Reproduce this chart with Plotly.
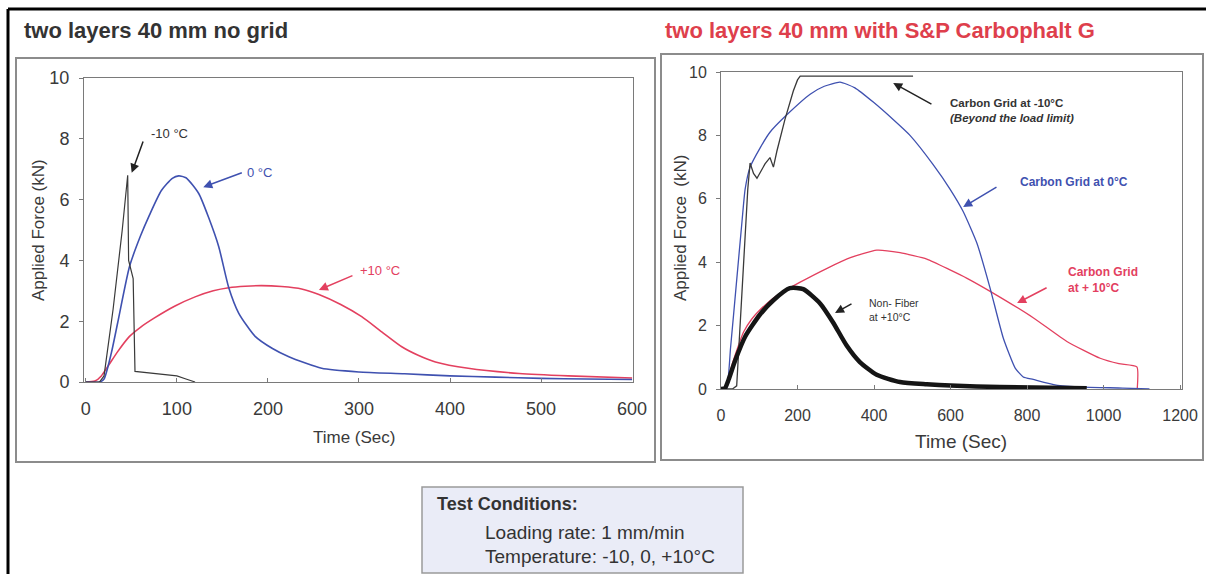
import plotly.graph_objects as go

W, H = 1206, 574

# ---------------- data: left panel (no grid) ----------------
left_m10_t = [0, 15, 20, 30, 40, 46, 47, 49, 52, 54, 60, 80, 100, 110, 120]
left_m10_f = [0, 0, 0.2, 2.4, 5.0, 6.8, 4.0, 3.75, 3.4, 0.35, 0.33, 0.27, 0.2, 0.1, 0.0]

left_0_t = [0, 15, 20, 28, 35, 48, 60, 70, 83, 95, 102, 110, 124, 135, 146, 157, 168, 186, 205, 223, 259, 300, 350, 400, 450, 500, 550, 600]
left_0_f = [0, 0, 0.1, 0.95, 1.95, 3.8, 4.8, 5.5, 6.3, 6.7, 6.78, 6.72, 6.2, 5.4, 4.45, 3.1, 2.26, 1.5, 1.1, 0.83, 0.45, 0.33, 0.27, 0.2, 0.16, 0.12, 0.1, 0.08]

left_p10_t = [0, 10, 17, 25, 35, 48, 60, 75, 98, 120, 140, 157, 175, 193, 215, 237, 256, 280, 303, 325, 347, 365, 384, 420, 476, 530, 600]
left_p10_f = [0, 0.03, 0.2, 0.55, 1.0, 1.5, 1.8, 2.1, 2.5, 2.8, 3.0, 3.1, 3.15, 3.17, 3.14, 3.06, 2.88, 2.55, 2.15, 1.65, 1.16, 0.88, 0.66, 0.45, 0.28, 0.2, 0.13]

# ---------------- data: right panel (with Carbophalt G) ----------------
right_m10_t = [0, 30, 41, 50, 60, 70, 76, 85, 94, 105, 115, 128, 137, 146, 167, 189, 200, 207, 220, 300, 400, 502]
right_m10_f = [0, 0, 0.1, 2.0, 4.2, 6.3, 7.13, 6.8, 6.65, 6.9, 7.1, 7.3, 7.0, 7.5, 8.5, 9.4, 9.75, 9.87, 9.87, 9.87, 9.87, 9.87]

right_0_t = [0, 14, 25, 40, 55, 63, 76, 102, 128, 172, 233, 270, 311, 350, 398, 450, 494, 555, 599, 633, 669, 703, 738, 769, 790, 816, 876, 950, 1050, 1120]
right_0_f = [0, 0, 1.3, 3.3, 5.3, 6.3, 7.0, 7.6, 8.1, 8.65, 9.3, 9.55, 9.68, 9.5, 9.05, 8.5, 8.0, 7.07, 6.3, 5.6, 4.6, 3.2, 1.6, 0.66, 0.38, 0.3, 0.12, 0.06, 0.03, 0.0]

right_p10_t = [0, 14, 25, 37, 59, 80, 102, 146, 207, 276, 340, 407, 468, 538, 600, 642, 708, 816, 904, 991, 1040, 1087, 1088]
right_p10_f = [0, 0.05, 0.6, 1.07, 1.8, 2.2, 2.5, 2.95, 3.37, 3.8, 4.15, 4.38, 4.3, 4.1, 3.75, 3.5, 3.05, 2.25, 1.5, 0.97, 0.8, 0.7, 0.0]

right_nf_t = [0, 10, 20, 37, 63, 102, 137, 180, 215, 259, 293, 328, 363, 407, 468, 538, 600, 729, 956]
right_nf_f = [0, 0.02, 0.3, 0.9, 1.65, 2.35, 2.8, 3.18, 3.15, 2.7, 2.1, 1.38, 0.85, 0.45, 0.22, 0.15, 0.11, 0.06, 0.02]

x_ticks_left = [0, 100, 200, 300, 400, 500, 600]
x_ticks_right = [0, 200, 400, 600, 800, 1000, 1200]
y_ticks = [0, 2, 4, 6, 8, 10]

BLUE = "#3f51b0"
RED = "#e3405f"
BLACK = "#3a3a3a"
TXT = "#3a3a3a"
FONT = "Liberation Sans, Arial, sans-serif"


def px(x):
    return x / W


def py(y):
    return 1 - y / H


fig = go.Figure()

# left traces
fig.add_trace(go.Scatter(x=left_p10_t, y=left_p10_f, mode="lines", line=dict(color=RED, width=1.6, shape="spline", smoothing=0.6), xaxis="x", yaxis="y"))
fig.add_trace(go.Scatter(x=left_0_t, y=left_0_f, mode="lines", line=dict(color=BLUE, width=1.6, shape="spline", smoothing=0.6), xaxis="x", yaxis="y"))
fig.add_trace(go.Scatter(x=left_m10_t, y=left_m10_f, mode="lines", line=dict(color=BLACK, width=1.2), xaxis="x", yaxis="y"))

# right traces
fig.add_trace(go.Scatter(x=right_p10_t, y=right_p10_f, mode="lines", line=dict(color=RED, width=1.3, shape="spline", smoothing=0.5), xaxis="x2", yaxis="y2"))
fig.add_trace(go.Scatter(x=right_0_t, y=right_0_f, mode="lines", line=dict(color=BLUE, width=1.3, shape="spline", smoothing=0.5), xaxis="x2", yaxis="y2"))
fig.add_trace(go.Scatter(x=right_m10_t, y=right_m10_f, mode="lines", line=dict(color=BLACK, width=1.3), xaxis="x2", yaxis="y2"))
fig.add_trace(go.Scatter(x=right_nf_t, y=right_nf_f, mode="lines", line=dict(color="#151515", width=4.5, shape="spline", smoothing=0.6), xaxis="x2", yaxis="y2"))

axis_common = dict(showgrid=False, zeroline=False, showline=True, linecolor="#7a7a7a", linewidth=1, mirror=True,
                   tickcolor="#7a7a7a", automargin=False)

fig.update_layout(
    width=W, height=H, margin=dict(l=0, r=0, t=0, b=0, pad=0), autosize=False,
    paper_bgcolor="white", plot_bgcolor="white", showlegend=False,
    font=dict(family=FONT, color=TXT),
    xaxis=dict(domain=[px(84), px(633)], range=[-2, 601], tickvals=x_ticks_left, ticks="inside", ticklen=4,
               ticklabelstandoff=10, anchor="y", tickfont=dict(family=FONT, color=TXT, size=18), **axis_common),
    yaxis=dict(domain=[py(382), py(78)], range=[0, 10], tickvals=y_ticks, ticks="outside", ticklen=4,
               ticklabelstandoff=6, anchor="x", tickfont=dict(family=FONT, color=TXT, size=18), **axis_common),
    xaxis2=dict(domain=[px(721), px(1182)], range=[0, 1205], tickvals=x_ticks_right, ticks="inside", ticklen=4,
                ticklabelstandoff=12, anchor="y2", tickfont=dict(family=FONT, color=TXT, size=16), **axis_common),
    yaxis2=dict(domain=[py(389), py(72)], range=[0, 10], tickvals=y_ticks, ticks="outside", ticklen=4,
                ticklabelstandoff=6, anchor="x2", tickfont=dict(family=FONT, color=TXT, size=16), **axis_common),
)

shapes = []
# outer black frame
shapes.append(dict(type="line", xref="paper", yref="paper", x0=px(8), x1=px(1206), y0=py(9), y1=py(9), line=dict(color="black", width=3)))
shapes.append(dict(type="line", xref="paper", yref="paper", x0=px(8), x1=px(8), y0=py(9), y1=py(574), line=dict(color="black", width=3)))
# panel boxes
shapes.append(dict(type="rect", xref="paper", yref="paper", x0=px(16), x1=px(655), y0=py(462), y1=py(58), line=dict(color="#8c8c8c", width=2), layer="below"))
shapes.append(dict(type="rect", xref="paper", yref="paper", x0=px(661), x1=px(1203), y0=py(460), y1=py(54), line=dict(color="#8c8c8c", width=2), layer="below"))
# test conditions box
shapes.append(dict(type="rect", xref="paper", yref="paper", x0=px(422), x1=px(743), y0=py(573), y1=py(487), line=dict(color="#9a9a9a", width=1.5), fillcolor="#eaecf7", layer="below"))
fig.update_layout(shapes=shapes)

ann = []
# titles
ann.append(dict(xref="paper", yref="paper", x=px(22), y=py(30), xanchor="left", yanchor="middle", showarrow=False,
                text="<b>two layers 40 mm no grid</b>", font=dict(size=22, color="#333333", family=FONT)))
ann.append(dict(xref="paper", yref="paper", x=px(663), y=py(30), xanchor="left", yanchor="middle", showarrow=False,
                text="<b>two layers 40 mm with S&P Carbophalt G</b>", font=dict(size=22, color="#de3f4c", family=FONT)))
# axis titles
ann.append(dict(xref="paper", yref="paper", x=px(38), y=py(230), xanchor="center", yanchor="middle", textangle=-90, showarrow=False,
                text="Applied Force (kN)", font=dict(size=17, color=TXT, family=FONT)))
ann.append(dict(xref="paper", yref="paper", x=px(354), y=py(438), xanchor="center", yanchor="middle", showarrow=False,
                text="Time (Sec)", font=dict(size=17, color=TXT, family=FONT)))
ann.append(dict(xref="paper", yref="paper", x=px(680), y=py(228), xanchor="center", yanchor="middle", textangle=-90, showarrow=False,
                text="Applied Force  (kN)", font=dict(size=17, color=TXT, family=FONT)))
ann.append(dict(xref="paper", yref="paper", x=px(961), y=py(441), xanchor="center", yanchor="middle", showarrow=False,
                text="Time (Sec)", font=dict(size=19, color=TXT, family=FONT)))


def arrow(xr, yr, tail, head, color, width=1.5):
    return dict(xref=xr, yref=yr, axref=xr, ayref=yr, x=head[0], y=head[1], ax=tail[0], ay=tail[1],
                text="", showarrow=True, arrowhead=2, arrowsize=1.2, arrowwidth=width, arrowcolor=color,
                standoff=0, startstandoff=0)


def label(xr, yr, x, y, text, color, size, align="left"):
    return dict(xref=xr, yref=yr, x=x, y=y, xanchor="left", yanchor="middle", text=text, showarrow=False,
                align=align, font=dict(size=size, color=color, family=FONT))


# left annotations
ann.append(arrow("x", "y", (63.5, 7.96), (50.4, 6.88), "#222222"))
ann.append(label("x", "y", 69, 8.19, "-10 °C", "#333333", 13))
ann.append(arrow("x", "y", (173, 6.9), (129, 6.41), BLUE))
ann.append(label("x", "y", 175, 6.9, "0 °C", BLUE, 13))
ann.append(arrow("x", "y", (294.5, 3.52), (256, 3.03), RED))
ann.append(label("x", "y", 299, 3.68, "+10 °C", RED, 13))

# right annotations
ann.append(arrow("x2", "y2", (554, 8.96), (450, 9.65), "#222222"))
ann.append(label("x2", "y2", 593, 8.8, "<b>Carbon Grid at -10°C</b><br><b><i>(Beyond the load limit)</i></b>", "#333333", 11.5))
ann.append(arrow("x2", "y2", (724, 6.4), (633, 5.74), BLUE))
ann.append(label("x2", "y2", 776, 6.53, "<b>Carbon Grid at 0°C</b>", BLUE, 12))
ann.append(arrow("x2", "y2", (855, 3.22), (774, 2.71), RED))
ann.append(label("x2", "y2", 902, 3.44, "<b>Carbon Grid</b><br><b>at + 10°C</b>", RED, 12))
ann.append(arrow("x2", "y2", (345, 2.71), (298, 2.4), "#222222"))
ann.append(label("x2", "y2", 382, 2.49, "Non- Fiber<br>at +10°C", "#333333", 10.5))

# test conditions
ann.append(dict(xref="paper", yref="paper", x=px(435), y=py(504), xanchor="left", yanchor="middle", showarrow=False,
                text="<b>Test Conditions:</b>", font=dict(size=18, color="#333333", family=FONT)))
ann.append(dict(xref="paper", yref="paper", x=px(483), y=py(532), xanchor="left", yanchor="middle", showarrow=False,
                text="Loading rate: 1 mm/min", font=dict(size=19, color="#333333", family=FONT)))
ann.append(dict(xref="paper", yref="paper", x=px(483), y=py(556), xanchor="left", yanchor="middle", showarrow=False,
                text="Temperature: -10, 0, +10°C", font=dict(size=19, color="#333333", family=FONT)))

fig.update_layout(annotations=ann)

fig.write_html("out.html",
               post_script="document.body.style.margin='0px';document.body.style.overflow='hidden';")
